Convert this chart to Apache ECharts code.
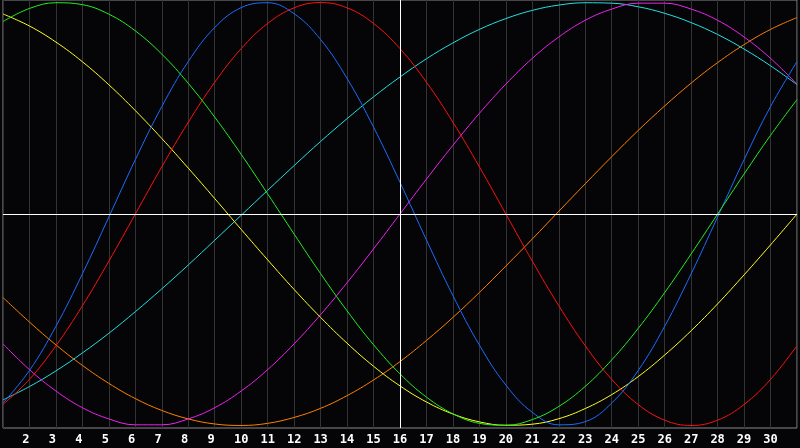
<!DOCTYPE html>
<html>
<head>
<meta charset="utf-8">
<script src="https://cdn.jsdelivr.net/npm/echarts@6/dist/echarts.min.js"></script>
<style>
  html, body { margin: 0; padding: 0; background: #050508; }
  #chart { width: 800px; height: 448px; }
</style>
</head>
<body>
<div id="chart"></div>
<script>
// days of the month shown on the x axis (1 and 31 sit on the borders, unlabelled)
var days = ['1', '2', '3', '4', '5', '6', '7', '8', '9', '10', '11', '12', '13', '14', '15', '16',
            '17', '18', '19', '20', '21', '22', '23', '24', '25', '26', '27', '28', '29', '30', '31'];
var dayLabels = ['2', '3', '4', '5', '6', '7', '8', '9', '10', '11', '12', '13', '14', '15', '16',
                 '17', '18', '19', '20', '21', '22', '23', '24', '25', '26', '27', '28', '29', '30'];
var todayLabel = '16';

// values, -100..100
var blue = [-89.4, -74.0, -53.1, -28.3, -1.4, 25.7, 50.8, 72.1, 88.2, 97.6, 99.9, 94.7, 82.5, 64.1, 41.1, 15.0,
            -12.3, -38.6, -62.0, -80.9, -93.8, -99.7, -98.2, -89.4, -74.0, -53.1, -28.3, -1.4, 25.7, 50.8, 72.1];
var red = [-90.1, -78.2, -62.3, -43.4, -22.3, 0, 22.3, 43.4, 62.3, 78.2, 90.1, 97.5, 100, 97.5, 90.1, 78.2,
           62.3, 43.4, 22.3, 0, -22.3, -43.4, -62.3, -78.2, -90.1, -97.5, -100, -97.5, -90.1, -78.2, -62.3];
var green = [91.0, 97.2, 99.9, 99.0, 94.5, 86.6, 75.6, 61.8, 45.8, 28.2, 9.5, -9.5, -28.2, -45.8, -61.8, -75.6,
             -86.6, -94.5, -99.0, -99.9, -97.2, -91.0, -81.5, -69.0, -54.1, -37.2, -18.9, 0, 18.9, 37.2, 54.1];
var magenta = [-61.4, -73.6, -83.7, -91.6, -96.9, -99.7, -99.7, -96.9, -91.6, -83.7, -73.6, -61.4, -47.6, -32.5, -16.5, 0,
               16.5, 32.5, 47.6, 61.4, 73.6, 83.7, 91.6, 96.9, 99.7, 99.7, 96.9, 91.6, 83.7, 73.6, 61.4];
var yellow = [94.6, 88.9, 81.3, 72.0, 61.1, 48.9, 35.7, 21.7, 7.3, -7.3, -21.7, -35.7, -48.9, -61.1, -72.0, -81.3,
              -88.9, -94.6, -98.3, -99.9, -99.4, -96.8, -92.0, -85.4, -76.9, -66.7, -55.2, -42.5, -28.8, -14.6, 0];
var orange = [-39.5, -51.1, -61.9, -71.6, -80.1, -87.3, -92.9, -96.9, -99.3, -100, -99.0, -96.2, -91.9, -85.9, -78.5, -69.8,
              -59.8, -48.9, -37.1, -24.6, -11.8, 1.3, 14.3, 27.1, 39.5, 51.1, 61.9, 71.6, 80.1, 87.3, 92.9];
var cyan = [-87.9, -81.6, -74.2, -65.7, -56.4, -46.2, -35.4, -24.1, -12.4, -0.6, 11.2, 22.9, 34.3, 45.1, 55.4, 64.8,
            73.4, 80.9, 87.3, 92.4, 96.3, 98.8, 99.9, 99.7, 98.0, 94.9, 90.5, 84.9, 78.0, 70.1, 61.2];

var chart = echarts.init(document.getElementById('chart'));

function curve(name, data, color) {
    return {
        name: name,
        type: 'line',
        data: data,
        smooth: 0.4,
        symbol: 'none',
        lineStyle: {color: color, width: 1},
        z: 3
    };
}

var option = {
    animation: false,
    backgroundColor: '#050508',
    grid: {
        left: 0, right: 0, top: 0, bottom: 20,
        show: true,
        borderColor: '#8a8a8a',
        borderWidth: 1,
        backgroundColor: 'transparent'
    },
    xAxis: {
        type: 'category',
        data: days,
        boundaryGap: false,
        axisLine: {show: false},
        axisTick: {show: false},
        splitLine: {show: true, lineStyle: {color: '#333333', width: 1}},
        axisLabel: {
            interval: 0,
            margin: 6,
            color: '#ffffff',
            fontWeight: 'bold',
            fontSize: 12,
            fontFamily: 'DejaVu Sans Mono',
            formatter: function (v) {
                if (dayLabels.indexOf(v) < 0) return '';
                // single digits sit in the left half of a two-char cell
                return v.length === 1 ? v + ' ' : v;
            }
        }
    },
    yAxis: {
        type: 'value',
        min: -101.2,
        max: 101.2,
        axisLine: {show: false},
        axisTick: {show: false},
        axisLabel: {show: false},
        splitLine: {show: false}
    },
    series: [
        {
            // white cross: today + zero line
            type: 'line',
            data: [],
            z: 2,
            markLine: {
                silent: true,
                symbol: 'none',
                label: {show: false},
                lineStyle: {color: '#ffffff', width: 1, type: 'solid'},
                data: [{xAxis: todayLabel}, {yAxis: 0}]
            }
        },
        curve('orange', orange, '#ff8000'),
        curve('cyan', cyan, '#22e0e0'),
        curve('magenta', magenta, '#ee22ee'),
        curve('yellow', yellow, '#ffff22'),
        curve('red', red, '#ff1010'),
        curve('blue', blue, '#1a6cff'),
        curve('green', green, '#22ee22')
    ]
};

chart.setOption(option);
</script>
</body>
</html>
